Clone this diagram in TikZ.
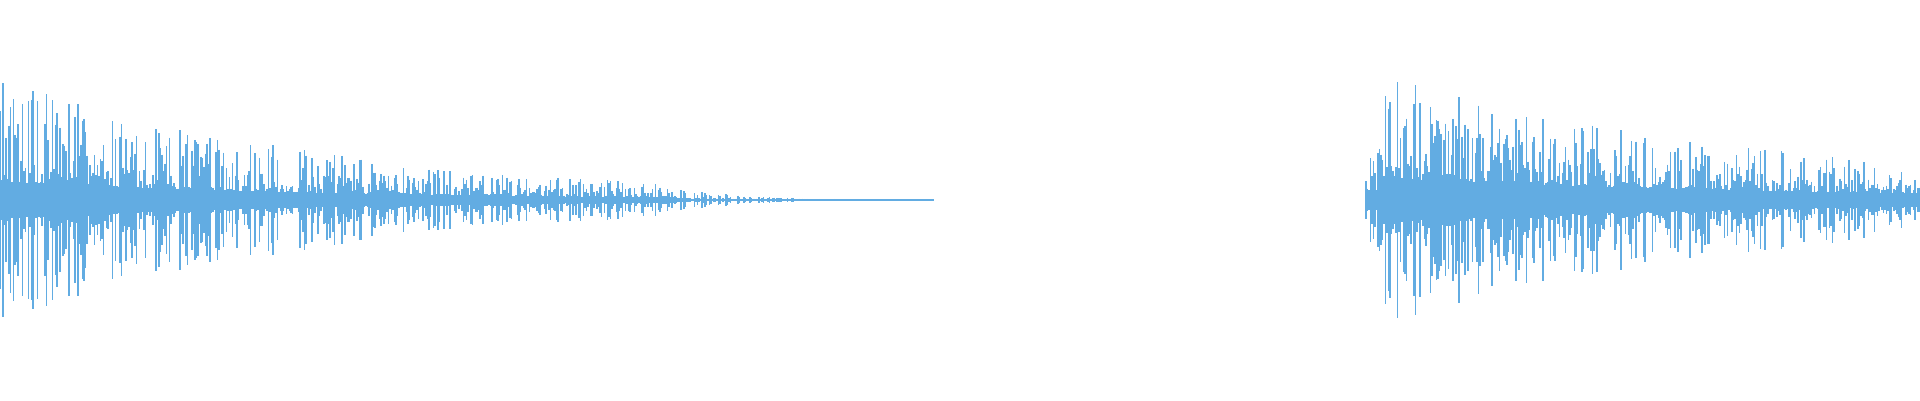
\documentclass[tikz,border=0pt]{standalone}
\usetikzlibrary{positioning}
\definecolor{wave}{RGB}{98,172,226}
\tikzset{every picture/.style={line width=0.75pt},
  sample/.style={draw=wave,line width=1.1pt}}

\begin{document}
\begin{tikzpicture}[x=0.75pt,y=0.75pt,yscale=-1,xscale=1]
\useasboundingbox (0,0) rectangle (1920,400);
\pgfmathsetseed{4711}

%first burst
\foreach \i in {0,1.5,...,934}{
  \pgfmathsetmacro\env{125*exp(-\i/330)*(\i>650 ? exp(-(\i-650)/90) : 1)}
  \pgfmathsetmacro\amp{max(0.6,\env*(0.15+0.85*rnd^2))}
  \draw [sample] (\i,200-\amp) -- (\i,200+\amp);
}

%second burst
\foreach \i in {1366,1367.5,...,1920}{
  \pgfmathsetmacro\env{(\i<1380 ? 55 : 125*exp(-(\i-1380)/430))}
  \pgfmathsetmacro\amp{\env*(0.18+0.82*rnd^2)}
  \draw [sample] (\i,200-\amp) -- (\i,200+\amp);
}

\end{tikzpicture}
\end{document}
